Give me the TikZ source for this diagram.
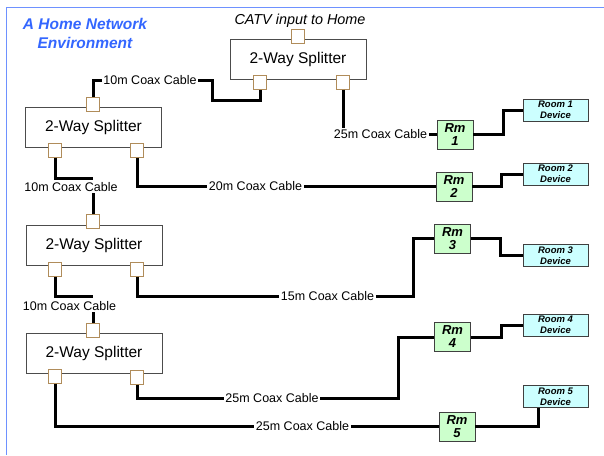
\documentclass[tikz,border=0pt]{standalone}
\usepackage{fontspec}
\setmainfont{Liberation Sans}
\usetikzlibrary{calc}
\definecolor{titleblue}{RGB}{51,102,255}
\definecolor{frameblue}{RGB}{110,145,255}
\definecolor{porttan}{RGB}{176,140,90}
\definecolor{rmgreen}{RGB}{204,255,204}
\definecolor{roomcyan}{RGB}{204,255,255}
\begin{document}
\begin{tikzpicture}[x=1pt,y=-1pt,
  splitter/.style={draw=black!70, line width=1pt, fill=white, minimum width=136pt, minimum height=40pt, inner sep=0pt, font=\fontsize{15.5}{18}\selectfont},
  port/.style={draw=porttan, line width=1pt, fill=white, minimum width=13pt, minimum height=14pt, inner sep=0pt},
  cablelabel/.style={inner sep=1.5pt, font=\fontsize{12.5}{14}\selectfont},
  rmbox/.style={draw=black!75, line width=0.8pt, fill=rmgreen, minimum width=36pt, minimum height=29pt, inner sep=0pt, align=center, font=\fontsize{13}{13}\selectfont\bfseries\itshape},
  roombox/.style={draw=black!75, line width=0.8pt, fill=roomcyan, minimum width=65pt, minimum height=22pt, inner sep=0pt, align=center, font=\fontsize{9.5}{11}\selectfont\bfseries\itshape},
  cable/.style={line width=3pt, black},
  frame/.style={draw=frameblue, line width=1.5pt}
]
\useasboundingbox (0,0) rectangle (604,455);
% frame
\draw[frame] (604,7.5) -- (6.5,7.5) -- (6.5,455);
% title
\node[align=center, text=titleblue, font=\fontsize{15.5}{19}\selectfont\bfseries\itshape] (title) at (85,33) {A Home Network\\Environment};
\node[font=\fontsize{14.4}{16}\selectfont\itshape] (catv) at (300,21) {CATV input to Home};

% splitters
\node[splitter] (s0) at (298,59) {2-Way Splitter};
\node[splitter] (s1) at (93.5,127) {2-Way Splitter};
\node[splitter] (s2) at (94,245) {2-Way Splitter};
\node[splitter] (s3) at (94,353) {2-Way Splitter};

% ports
\node[port] (s0in) at (298,36) {};
\node[port] (s0l) at (260,82) {};
\node[port] (s0r) at (343,82) {};
\node[port] (s1in) at (93,104) {};
\node[port] (s1l) at (55,150) {};
\node[port] (s1r) at (137,150) {};
\node[port] (s2in) at (93,221) {};
\node[port] (s2l) at (55,269) {};
\node[port] (s2r) at (137,269) {};
\node[port] (s3in) at (93,330) {};
\node[port] (s3l) at (55,376) {};
\node[port] (s3r) at (137,377) {};

% room boxes
\node[rmbox] (rm1) at (455,134.5) {Rm\\1};
\node[rmbox] (rm2) at (454,186.5) {Rm\\2};
\node[rmbox] (rm3) at (452.5,238.5) {Rm\\3};
\node[rmbox] (rm4) at (452.5,337) {Rm\\4};
\node[rmbox] (rm5) at (457,426.5) {Rm\\5};

\node[roombox] (room1) at (555.5,110) {Room 1\\Device};
\node[roombox] (room2) at (555.5,174) {Room 2\\Device};
\node[roombox] (room3) at (555.5,255.5) {Room 3\\Device};
\node[roombox] (room4) at (555.5,325) {Room 4\\Device};
\node[roombox] (room5) at (555.5,396.5) {Room 5\\Device};

% cable labels
\node[cablelabel] (l1) at (150,80) {10m Coax Cable};
\node[cablelabel] (l2) at (380.5,134.5) {25m Coax Cable};
\node[cablelabel] (l3) at (71,187) {10m Coax Cable};
\node[cablelabel] (l4) at (255.5,186.5) {20m Coax Cable};
\node[cablelabel] (l5) at (69.5,306) {10m Coax Cable};
\node[cablelabel] (l6) at (327.5,296) {15m Coax Cable};
\node[cablelabel] (l7) at (272,398) {25m Coax Cable};
\node[cablelabel] (l8) at (302.5,426.5) {25m Coax Cable};

% bend coordinates
\coordinate (c1) at (212,100);
\coordinate (k3) at (93,178);
\coordinate (k5) at (93,296);
\coordinate (k6) at (413,296);
\coordinate (k7) at (398,398);

% cables
\draw[cable] (s1in.north) |- (l1.west);
\draw[cable] (l1.east) -| (c1) -| (s0l.south);
\draw[cable] (s0r.south) -- (s0r.south |- l2.north);
\draw[cable] (l2.east) -- (rm1.west);
\draw[cable] (s1l.south) |- (k3);
\draw[cable] (k3 |- l3.south) -- (s2in.north);
\draw[cable] (s1r.south) |- (l4.west);
\draw[cable] (l4.east) -- (rm2.west);
\draw[cable] (s2l.south) |- (k5);
\draw[cable] (k5 |- l5.south) -- (s3in.north);
\draw[cable] (s2r.south) |- (l6.west);
\draw[cable] (l6.east) -- (k6) |- (rm3.west);
\draw[cable] (s3r.south) |- (l7.west);
\draw[cable] (l7.east) -- (k7) |- (rm4.west);
\draw[cable] (s3l.south) |- (l8.west);
\draw[cable] (l8.east) -- (rm5.west);

% room device links
\draw[cable] (rm1.east) -- ++(30,0) |- (room1.west);
\draw[cable] (rm2.east) -- ++(29,0) |- (room2.west);
\draw[cable] (rm3.east) -- ++(30,0) |- (room3.west);
\draw[cable] (rm4.east) -- ++(31,0) |- (room4.west);
\draw[cable] (rm5.east) -| ([xshift=-17.5pt]room5.south);
\end{tikzpicture}
\end{document}
